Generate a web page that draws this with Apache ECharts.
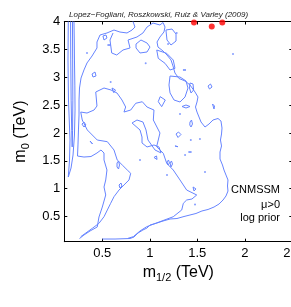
<!DOCTYPE html>
<html><head><meta charset="utf-8">
<script src="https://cdn.jsdelivr.net/npm/echarts@6/dist/echarts.min.js"></script>
<style>html,body{margin:0;padding:0;background:#fff}#c{width:291px;height:307px}</style>
</head><body><div id="c"></div>
<script>
const xTicks=[0.5,1,1.5,2,2.5];
const yTicks=[0.5,1,1.5,2,2.5,3,3.5,4];
const titleText='Lopez\u2212Fogliani, Roszkowski, Ruiz & Varley (2009)';
const notes=['CNMSSM','\u03bc>0','log prior'];

const stripOuter=[[0.142,4.0],[0.139,3.309],[0.144,2.592],[0.16,1.874],[0.155,1.515],[0.142,1.21],[0.171,1.372],[0.192,1.605],[0.207,1.964],[0.213,2.412],[0.211,2.86],[0.207,3.309],[0.205,3.668],[0.202,4.0]];
const stripInner=[[0.166,4.0],[0.168,3.31],[0.172,2.59],[0.178,2.05],[0.183,1.75],[0.187,2.05],[0.19,2.59],[0.188,3.31],[0.186,4.0]];
const outerLeft=[[0.26,0.107],[0.307,0.17],[0.371,0.242],[0.447,0.314],[0.465,0.493],[0.5,0.672],[0.536,0.888],[0.518,1.031],[0.536,1.157],[0.549,1.336],[0.518,1.516],[0.518,1.641],[0.486,1.695],[0.444,1.641],[0.381,1.578],[0.307,1.569],[0.239,1.587],[0.244,1.785],[0.249,2.054],[0.255,2.323],[0.255,2.592],[0.26,2.807],[0.276,2.986],[0.307,3.13],[0.339,3.256],[0.392,3.381],[0.444,3.525],[0.444,3.632],[0.476,3.758],[0.549,3.794],[0.623,3.847],[0.686,3.811],[0.76,3.794],[0.813,3.847],[0.844,3.901],[0.823,4.0]];
const outerRight=[[0.613,3.794],[0.581,3.668],[0.599,3.435],[0.652,3.399],[0.718,3.489],[0.792,3.525],[0.771,3.668],[0.865,3.722],[0.928,3.794],[0.971,3.901],[1.034,3.973],[1.107,3.937],[1.139,3.982],[1.16,3.901],[1.149,3.812],[1.107,3.722],[1.076,3.632],[1.086,3.542],[1.139,3.471],[1.181,3.399],[1.223,3.31],[1.244,3.202],[1.265,3.076],[1.307,2.978],[1.371,2.933],[1.423,2.861],[1.476,2.735],[1.507,2.646],[1.497,2.556],[1.481,2.466],[1.497,2.376],[1.518,2.287],[1.539,2.197],[1.581,2.107],[1.623,2.161],[1.665,2.233],[1.718,2.26],[1.749,2.215],[1.76,2.089],[1.755,1.982],[1.744,1.874],[1.755,1.767],[1.739,1.659],[1.739,1.533],[1.765,1.426],[1.781,1.336],[1.802,1.246],[1.823,1.157],[1.818,1.049],[1.823,0.959],[1.802,0.87],[1.771,0.798],[1.729,0.726],[1.676,0.672],[1.613,0.628],[1.549,0.601],[1.486,0.556],[1.423,0.529],[1.36,0.502],[1.286,0.466],[1.213,0.457],[1.139,0.421],[1.076,0.385],[1.002,0.349],[0.971,0.296],[0.928,0.26],[0.876,0.206],[0.834,0.134],[0.792,0.107],[0.634,0.098],[0.5,0.098]];
const innerMain=[[0.273,0.14],[0.395,0.29],[0.465,0.38],[0.518,0.498],[0.553,0.619],[0.588,0.739],[0.623,0.857],[0.676,0.977],[0.728,1.067],[0.781,1.157],[0.799,1.277],[0.763,1.336],[0.71,1.426],[0.657,1.516],[0.623,1.695],[0.553,1.844],[0.447,1.874],[0.342,2.054],[0.289,2.233],[0.273,2.376],[0.339,2.358],[0.413,2.412],[0.444,2.484],[0.431,2.735],[0.518,2.807],[0.592,2.771],[0.655,2.717],[0.707,2.592],[0.746,2.466],[0.728,2.376],[0.799,2.412],[0.852,2.533],[0.921,2.561],[0.971,2.466],[1.044,2.412],[1.037,2.233],[1.107,2.0],[1.072,1.754],[1.142,1.636],[1.178,1.456],[1.247,1.336],[1.318,1.157],[1.388,0.977],[1.494,0.888],[1.444,0.816],[1.388,0.798],[1.353,0.739],[1.336,0.619],[1.247,0.498],[1.107,0.409],[0.967,0.319],[0.897,0.242],[0.826,0.14],[0.771,0.111]];
const loopS1=[[0.865,2.233],[0.813,2.179],[0.897,2.054],[0.918,1.928],[0.918,1.821],[0.971,1.749],[1.044,1.785],[1.097,1.749],[1.118,1.642],[1.055,1.695],[0.981,1.874],[0.96,2.054],[0.928,2.197]];
const loopL1=[[1.073,3.488],[1.178,3.429],[1.247,3.309],[1.265,3.16],[1.213,3.13],[1.16,3.25],[1.089,3.339]];
const loopL2=[[0.855,3.596],[0.907,3.668],[0.971,3.614],[1.002,3.542],[0.971,3.453],[0.897,3.435],[0.855,3.525]];
const loopL3=[[1.213,3.022],[1.318,3.004],[1.381,2.933],[1.402,2.807],[1.371,2.646],[1.318,2.556],[1.255,2.592],[1.213,2.718],[1.202,2.861]];
const loopL4=[[1.17,3.847],[1.234,3.865],[1.276,3.775],[1.276,3.65],[1.223,3.578],[1.181,3.668]];
const islands=[
 [[0.507,3.74],[0.539,3.758],[0.549,3.704],[0.518,3.668]],
 [[0.392,3.058],[0.423,3.094],[0.434,3.023],[0.402,3.004]],
 [[0.655,1.462],[0.671,1.498],[0.681,1.426],[0.671,1.354],[0.655,1.39]],
 [[0.676,1.067],[0.697,1.103],[0.707,1.049],[0.686,1.013]],
 [[0.371,1.856],[0.392,1.874],[0.397,1.803],[0.376,1.785]],
 [[0.286,2.16],[0.307,2.197],[0.328,2.143],[0.307,2.107]],
 [[1.213,1.462],[1.228,1.498],[1.239,1.444],[1.223,1.39]],
 [[1.276,1.982],[1.302,2.018],[1.328,1.973],[1.297,1.919]],
 [[1.423,2.197],[1.439,2.233],[1.449,2.161],[1.434,2.107],[1.421,2.143]],
 [[1.181,1.48],[1.197,1.516],[1.207,1.462],[1.192,1.426]],
 [[1.407,1.659],[1.423,1.686],[1.439,1.659],[1.423,1.632]],
 [[1.349,3.13],[1.365,3.157],[1.381,3.13],[1.365,3.103]],
 [[1.423,2.897],[1.455,2.879],[1.461,2.771],[1.434,2.717],[1.418,2.807]],
 [[1.613,2.843],[1.639,2.879],[1.655,2.825],[1.628,2.789]],
 [[1.339,2.475],[1.381,2.502],[1.423,2.475],[1.381,2.448]],
 [[1.66,2.52],[1.681,2.484],[1.676,2.43],[1.655,2.448]],
 [[1.109,2.652],[1.163,2.592],[1.125,2.472],[1.089,2.562]],
 [[1.265,1.767],[1.283,1.785],[1.297,1.754],[1.283,1.731]],
 [[0.555,3.578],[0.571,3.605],[0.587,3.578],[0.571,3.551]],
 [[0.602,2.807],[0.639,2.771],[0.621,2.723]],
 [[1.455,1.032],[1.476,1.067],[1.486,0.996],[1.465,0.96]],
 [[1.044,1.561],[1.071,1.588],[1.076,1.525],[1.055,1.507]]
];
const dots=[[1.876,3.417],[1.283,3.794],[1.192,3.596],[0.957,3.25],[0.339,3.435],[0.588,2.915],[1.528,1.892],[1.432,1.874],[1.318,2.341],[1.371,1.606],[1.181,1.247],[1.476,0.717],[0.897,1.516],[1.581,1.3]];
const bestFit=[[1.465,3.98],[1.652,3.91],[1.763,3.98]];

const LINE='#6684ff';
const FONT='Liberation Sans';
const openLines=[stripOuter,stripInner,outerLeft,outerRight,innerMain];
const closedLines=[loopS1,loopL1,loopL2,loopL3,loopL4].concat(islands);
const series=[];
openLines.forEach(d=>series.push({type:'line',data:d,showSymbol:false,silent:true,lineStyle:{color:LINE,width:1}}));
closedLines.forEach(d=>series.push({type:'line',data:d.concat([d[0]]),showSymbol:false,silent:true,lineStyle:{color:LINE,width:1}}));
series.push({type:'scatter',data:dots,symbolSize:2,itemStyle:{color:LINE},silent:true});
series.push({type:'scatter',data:bestFit,symbolSize:6,itemStyle:{color:'#ff0000'},clip:false,silent:true});

const chart=echarts.init(document.getElementById('c'),null,{renderer:'canvas'});
const tick={show:true,inside:true,length:3,lineStyle:{color:'#000'}};
const rich={m:{fontSize:16,fontFamily:FONT,color:'#000'},s:{fontSize:11,fontFamily:FONT,color:'#000',padding:[10,0,0,0]}};
chart.setOption({
 animation:false,
 title:{text:titleText,left:64,top:6,textStyle:{fontSize:8,fontStyle:'italic',fontWeight:'normal',fontFamily:FONT,color:'#222'}},
 grid:{left:64.3,top:21.5,width:228,height:220.2,containLabel:false,outerBoundsMode:'none'},
 xAxis:[
  {type:'value',min:0.1,max:2.5,position:'bottom',splitLine:{show:false},
   axisLine:{show:true,lineStyle:{color:'#000'}},
   axisTick:Object.assign({customValues:xTicks},tick),
   axisLabel:{customValues:xTicks,fontSize:13,fontFamily:FONT,color:'#000',margin:5,hideOverlap:false},
   name:'{m|m}{s|1/2}{m| (TeV)}',nameLocation:'middle',nameGap:20,nameTextStyle:{rich:rich}},
  {type:'value',min:0.1,max:2.5,position:'top',splitLine:{show:false},
   axisLine:{show:true,lineStyle:{color:'#000'}},
   axisTick:Object.assign({customValues:xTicks},tick),axisLabel:{show:false}}
 ],
 yAxis:[
  {type:'value',min:0.05,max:4,position:'left',splitLine:{show:false},
   axisLine:{show:true,lineStyle:{color:'#000'}},
   axisTick:Object.assign({customValues:yTicks},tick),
   axisLabel:{customValues:yTicks,fontSize:13,fontFamily:FONT,color:'#000',margin:4},
   name:'{m|m}{s|0}{m| (TeV)}',nameLocation:'middle',nameGap:24,nameTextStyle:{rich:rich}},
  {type:'value',min:0.05,max:4,position:'right',splitLine:{show:false},
   axisLine:{show:true,lineStyle:{color:'#000'}},
   axisTick:Object.assign({customValues:yTicks},tick),axisLabel:{show:false}}
 ],
 graphic:[
  {type:'text',x:280,y:190,style:{text:notes[0],fontSize:11,fontFamily:FONT,fill:'#000',textAlign:'right',textVerticalAlign:'middle'}},
  {type:'text',x:280,y:205,style:{text:notes[1],fontSize:11,fontFamily:FONT,fill:'#000',textAlign:'right',textVerticalAlign:'middle'}},
  {type:'text',x:280,y:218,style:{text:notes[2],fontSize:11,fontFamily:FONT,fill:'#000',textAlign:'right',textVerticalAlign:'middle'}}
 ],
 series:series
});
</script></body></html>
